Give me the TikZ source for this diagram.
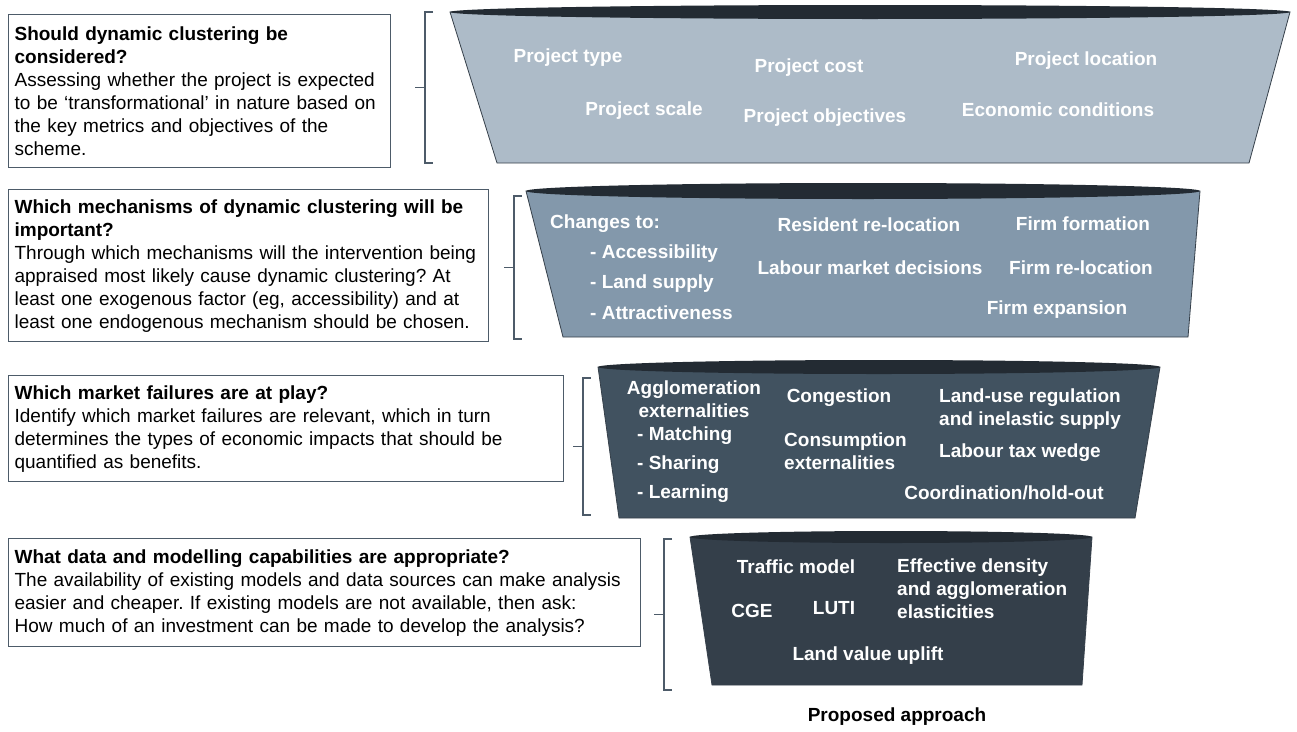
\documentclass[tikz,border=0pt]{standalone}
\usepackage{fontspec}
\setmainfont{Liberation Sans}
\usepackage{xcolor}
\usetikzlibrary{positioning}
\frenchspacing
\definecolor{boxline}{HTML}{4D5B69}
\definecolor{funA}{HTML}{ADBBC8}
\definecolor{funB}{HTML}{8398AB}
\definecolor{funC}{HTML}{415260}
\definecolor{funD}{HTML}{343F4A}
\definecolor{funtop}{HTML}{232B33}
\tikzset{
  qbox/.style={draw=boxline, line width=1.2pt, anchor=north west, align=left,
    inner xsep=6pt, font=\fontsize{19}{23}\selectfont},
  ftext/.style={text=white, inner sep=0pt, font=\bfseries\fontsize{19}{23}\selectfont},
  brace/.style={draw=boxline, line width=1.2pt},
  funnel/.style={draw=boxline!70!black, line width=0.8pt}
}

\begin{document}
\begin{tikzpicture}[x=1pt,y=-1pt]
\useasboundingbox (0,0) rectangle (1297,731);

\node[qbox, text width=370pt, minimum height=153pt] (whether) at (8,14)
  {\textbf{Should dynamic clustering be}\\\textbf{considered?}\\
   Assessing whether the project is expected\\to be ‘transformational’ in nature based on\\
   the key metrics and objectives of the\\scheme.};
\node[qbox, text width=468pt, minimum height=152pt] (mechanisms) at (8,189)
  {\textbf{Which mechanisms of dynamic clustering will be}\\\textbf{important?}\\
   Through which mechanisms will the intervention being\\appraised most likely cause dynamic clustering? At\\
   least one exogenous factor (eg, accessibility) and at\\least one endogenous mechanism should be chosen.};
\node[qbox, text width=543pt, minimum height=106pt] (failures) at (8,375)
  {\textbf{Which market failures are at play?}\\
   Identify which market failures are relevant, which in turn\\determines the types of economic impacts that should be\\
   quantified as benefits.};
\node[qbox, text width=620pt, minimum height=108pt] (modelling) at (8,538)
  {\textbf{What data and modelling capabilities are appropriate?}\\
   The availability of existing models and data sources can make analysis\\easier and cheaper. If existing models are not available, then ask:\\
   How much of an investment can be made to develop the analysis?};

\foreach \bx/\bt/\bb in {425/12/163, 514/196/339, 583/378/515, 664/539/690}
{
  \draw[brace] (\bx+8,\bt) -- (\bx,\bt) -- (\bx,\bb) -- (\bx+8,\bb);
  \draw[brace] (\bx,{(\bt+\bb)/2}) -- ({\bx-10},{(\bt+\bb)/2});
}

\filldraw[funnel, fill=funA] (450,12) -- (1290,12) -- (1249,163) -- (497,163) -- cycle;
\fill[funtop] (870,12) ellipse [x radius=420, y radius=7];
\filldraw[funnel, fill=funB] (526,191) -- (1200,191) -- (1188,337) -- (563,337) -- cycle;
\fill[funtop] (863,191) ellipse [x radius=337, y radius=8];
\filldraw[funnel, fill=funC] (598,367) -- (1160,367) -- (1135,518) -- (619,518) -- cycle;
\fill[funtop] (879,367) ellipse [x radius=281, y radius=7];
\filldraw[funnel, fill=funD] (690,537) -- (1092,537) -- (1082,685) -- (712,685) -- cycle;
\fill[funtop] (891,537) ellipse [x radius=201, y radius=6];

\node[ftext] (ptype) at (568,58) {Project type};
\node[ftext] (pcost) at (809,68) {Project cost};
\node[ftext] (ploc) at (1086,61) {Project location};
\node[ftext] (pscale) at (644,111) {Project scale};
\node[ftext] (pobj) at (825,118) {Project objectives};
\node[ftext] (econ) at (1058,110) {Economic conditions};

\node[ftext, anchor=west] (changes) at (550,224) {Changes to:};
\node[ftext, anchor=west] (access) at (590,254) {- Accessibility};
\node[ftext, anchor=west] (landsup) at (590,284) {- Land supply};
\node[ftext, anchor=west] (attract) at (590,313) {- Attractiveness};
\node[ftext] (resident) at (869,225) {Resident re-location};
\node[ftext] (labour) at (870,268) {Labour market decisions};
\node[ftext] (fform) at (1083,224) {Firm formation};
\node[ftext] (freloc) at (1081,268) {Firm re-location};
\node[ftext] (fexp) at (1057,310) {Firm expansion};

\node[ftext, align=center] (agglo) at (694,399) {Agglomeration\\externalities};
\node[ftext, anchor=west] (match) at (637,436) {- Matching};
\node[ftext, anchor=west] (share) at (637,465) {- Sharing};
\node[ftext, anchor=west] (learn) at (637,494) {- Learning};
\node[ftext] (congest) at (839,398) {Congestion};
\node[ftext, anchor=west, align=left] (consump) at (784,451) {Consumption\\externalities};
\node[ftext, anchor=west, align=left] (landuse) at (939,409) {Land-use regulation\\and inelastic supply};
\node[ftext, anchor=west] (taxwedge) at (939,453) {Labour tax wedge};
\node[ftext] (coord) at (1004,493) {Coordination/hold-out};

\node[ftext] (traffic) at (796,567) {Traffic model};
\node[ftext, anchor=west, align=left] (effdens) at (897,589) {Effective density\\and agglomeration\\elasticities};
\node[ftext] (cge) at (752,611) {CGE};
\node[ftext] (luti) at (834,608) {LUTI};
\node[ftext] (landval) at (868,656) {Land value uplift};

\node[ftext, text=black] (approach) at (897,717) {Proposed approach};
\end{tikzpicture}
\end{document}
